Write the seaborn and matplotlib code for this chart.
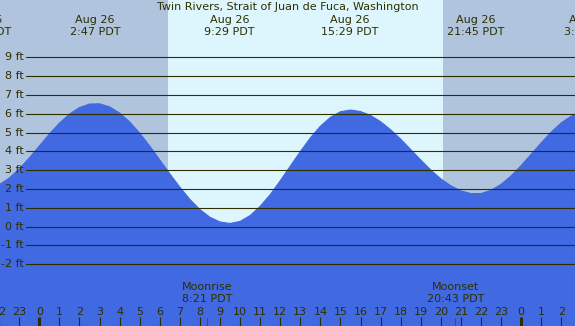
import numpy as np
import pandas as pd
import seaborn as sns
import matplotlib.pyplot as plt

# tide heights (ft) read every half hour, hours from Aug 26 00:00 PDT
times = np.arange(-2.0, 27.01, 0.5)
heights = [2.23, 2.58, 3.07, 3.65, 4.29, 4.92, 5.50, 5.98, 6.33, 6.52,
           6.53, 6.37, 6.04, 5.57, 4.97, 4.29, 3.55, 2.81, 2.10, 1.45,
           0.91, 0.50, 0.25, 0.17, 0.28, 0.59, 1.08, 1.70, 2.44, 3.22,
           3.99, 4.72, 5.34, 5.81, 6.11, 6.20, 6.12, 5.91, 5.58, 5.15,
           4.65, 4.10, 3.54, 3.01, 2.54, 2.17, 1.90, 1.76, 1.76, 1.93,
           2.25, 2.70, 3.25, 3.85, 4.46, 5.03, 5.52, 5.88, 6.09]

# high / low tide labels
tide_times = [-2.83, 2.78, 9.48, 15.48, 21.75, 27.37]
tide_dates = ['Aug 25', 'Aug 26', 'Aug 26', 'Aug 26', 'Aug 26', 'Aug 27']
tide_clock = ['21:10 PDT', '2:47 PDT', '9:29 PDT', '15:29 PDT', '21:45 PDT', '3:22 PDT']

# sun and moon
sunrise, sunset = 6.40, 20.10
moon_times = [8.35, 20.72]
moon_names = ['Moonrise', 'Moonset']
moon_clock = ['8:21 PDT', '20:43 PDT']

levels = list(range(-2, 10))
hours = list(range(-2, 27))

title = 'Twin Rivers, Strait of Juan de Fuca, Washington'

df = pd.DataFrame({'t': times, 'h': heights})

sns.set_style('white')
plt.rcParams['font.family'] = ['DejaVu Sans']

W, H = 575, 326
fig = plt.figure(figsize=(W / 100, H / 100), dpi=100)
ax = fig.add_axes([0, 0, 1, 1])
ax.set_xlim(-1.957, 26.68)
ax.set_ylim(-5.28, 12.05)
ax.axis('off')

txt = '#2e2e00'
night = '#B0C4DE'
day = '#DDF6FD'
water = '#4169E1'


def fy(px):
    # pixel row from top -> axes fraction
    return 1 - px / H


# background: night / day / night
ax.axvspan(-5, sunrise, color=night, lw=0, zorder=0)
ax.axvspan(sunrise, sunset, color=day, lw=0, zorder=0)
ax.axvspan(sunset, 30, color=night, lw=0, zorder=0)

# water
sns.lineplot(data=df, x='t', y='h', ax=ax, color=water, lw=0.8, zorder=1)
ax.fill_between(df['t'], df['h'], -6, color=water, lw=0, zorder=1)

# height grid
for lv in levels:
    ax.axhline(lv, xmin=26 / W, xmax=1, color=txt, lw=0.8, zorder=2)
    ax.text(24 / W, lv, f'{lv} ft', transform=ax.get_yaxis_transform(),
            ha='right', va='center', fontsize=8, color=txt, zorder=3)

xt = ax.get_xaxis_transform()

ax.text(0.5, fy(7.5), title, transform=ax.transAxes, ha='center', va='center',
        fontsize=8, color=txt)
for t, d, c in zip(tide_times, tide_dates, tide_clock):
    ax.text(t, fy(20), d, transform=xt, ha='center', va='center', fontsize=8, color=txt)
    ax.text(t, fy(31.7), c, transform=xt, ha='center', va='center', fontsize=8, color=txt)

for t, n, c in zip(moon_times, moon_names, moon_clock):
    ax.text(t, fy(287.3), n, transform=xt, ha='center', va='center', fontsize=8, color=txt)
    ax.text(t, fy(299.3), c, transform=xt, ha='center', va='center', fontsize=8, color=txt)
    ax.vlines(t, 0, fy(318), transform=xt, color='red', lw=0.8, zorder=3)

# hour axis
for hr in hours:
    ax.text(hr, fy(311.7), str(hr % 24), transform=xt, ha='center', va='center',
            fontsize=8, color=txt)
    lw = 2.2 if hr % 24 == 0 else 0.8
    ax.vlines(hr, 0, fy(316.7), transform=xt, color=txt, lw=lw, zorder=3)

plt.savefig('out.png', dpi=100)
